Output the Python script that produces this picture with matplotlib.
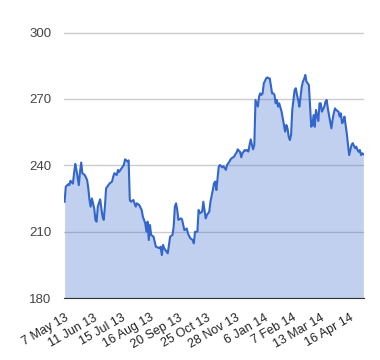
import matplotlib.pyplot as plt

plt.rcParams['font.family'] = ['Liberation Sans', 'DejaVu Sans']

# trading-day index (0 = 7 May 13) and closing price
day = [0, 1, 3, 4, 5, 7, 8, 9, 10, 12, 13, 14, 15, 17, 19, 20, 21, 22, 23, 24,
       25, 26, 27, 28, 30, 31, 32, 33, 34, 35, 37, 38, 40, 41, 42, 44, 45, 46, 49, 50,
       51, 53, 54, 55, 56, 58, 60, 61, 63, 65, 66, 68, 69, 70, 71, 72, 73, 75, 76, 77,
       80, 81, 82, 83, 84, 85, 87, 88, 89, 91, 92, 93, 94, 95, 96, 98, 99, 101, 103, 104,
       106, 108, 109, 110, 112, 113, 114, 116, 117, 118, 119, 120, 122, 123, 125, 126, 127, 128, 129, 130,
       131, 132, 133, 134, 136, 137, 138, 139, 140, 141, 143, 144, 145, 146, 148, 149, 150, 151, 152, 153,
       154, 155, 156, 157, 158, 159, 160, 161, 162, 163, 164, 165, 166, 167, 168, 170, 171, 172, 173, 175,
       176, 177, 178, 179, 180, 181, 183, 184, 185, 186, 187, 188, 189, 190, 191, 192, 194, 195, 196, 197,
       198, 199, 200, 201, 202, 203, 204, 206, 208, 209, 210, 211, 212, 213, 214, 215, 216, 217, 219, 220,
       221, 222, 223, 224, 225, 226, 227, 228, 229, 231, 232, 233, 234, 235, 236, 238, 239, 240, 241, 242,
       243, 245, 246, 247, 248, 249, 250, 251, 252]
price = [223.5, 230.3, 231.4, 231.0, 233.0, 231.7, 236.4, 240.6, 237.9, 231.0, 237.0, 241.2, 236.4, 235.6, 233.3, 229.6, 224.3, 221.3, 225.0, 222.8,
         220.5, 215.3, 214.5, 221.3, 224.6, 220.5, 216.8, 215.3, 221.3, 229.6, 231.1, 231.8, 232.6, 234.8, 236.4, 235.6, 237.9, 237.0, 239.4, 240.2,
         242.7, 241.7, 242.2, 224.3, 223.5, 224.3, 221.3, 222.8, 222.0, 219.8, 216.8, 213.8, 210.0, 214.5, 206.2, 213.0, 208.5, 207.7, 205.5, 203.2,
         202.5, 203.2, 199.4, 204.0, 202.5, 201.7, 200.2, 204.0, 207.7, 208.5, 212.3, 221.3, 222.8, 219.8, 215.3, 216.0, 215.6, 210.7, 211.4, 209.2,
         207.0, 206.2, 204.7, 209.9, 210.0, 219.8, 218.3, 219.0, 223.5, 219.8, 216.0, 217.5, 219.0, 223.5, 228.8, 231.8, 232.6, 228.8, 234.1, 239.4,
         240.1, 239.6, 239.0, 239.6, 237.9, 240.1, 240.9, 241.6, 242.7, 243.2, 243.9, 245.0, 245.7, 247.2, 246.0, 243.6, 245.5, 246.2, 246.9, 246.6,
         246.9, 246.2, 249.2, 251.7, 249.2, 247.2, 249.2, 269.5, 268.0, 266.5, 271.0, 272.5, 271.8, 272.5, 277.0, 279.3, 279.7, 279.3, 279.3, 272.5,
         272.5, 271.8, 268.0, 269.5, 266.5, 268.0, 264.2, 261.2, 258.2, 255.2, 258.2, 256.7, 252.9, 251.4, 253.7, 265.0, 274.0, 274.8, 271.8, 269.5,
         266.5, 271.0, 275.5, 277.8, 279.0, 280.8, 277.8, 276.3, 257.4, 258.2, 262.7, 257.4, 265.0, 262.5, 260.0, 268.0, 268.0, 264.2, 266.5, 268.7,
         269.5, 265.7, 262.7, 259.7, 256.7, 260.5, 263.5, 265.7, 265.0, 264.2, 262.0, 263.5, 259.0, 259.7, 262.0, 254.4, 249.2, 244.6, 246.9, 249.2,
         250.0, 247.7, 248.4, 246.9, 246.1, 246.9, 244.6, 245.4, 245.0]

n_days = 253
tick_labels = ['7 May 13', '11 Jun 13', '15 Jul 13', '16 Aug 13', '20 Sep 13', '25 Oct 13',
               '28 Nov 13', '6 Jan 14', '7 Feb 14', '13 Mar 14', '16 Apr 14']
tick_step = 24
y_ticks = [180, 210, 240, 270, 300]

fig = plt.figure(figsize=(3.8, 3.6), dpi=100)
ax = fig.add_axes([64 / 380, 1 - 298 / 360, 300 / 380, 265.5 / 360])

ax.fill_between(day, price, 180, color='#3366cc', alpha=0.3, linewidth=0, zorder=2)
ax.plot(day, price, color='#3366cc', linewidth=1.5, zorder=3)

ax.set_xlim(-0.5, n_days - 0.5)
ax.set_ylim(180, 300)
ax.set_yticks(y_ticks)
ax.set_xticks(range(0, tick_step * len(tick_labels), tick_step))
ax.set_xticklabels(tick_labels, rotation=30, ha='right', rotation_mode='anchor')

ax.grid(axis='y', color='#cccccc', linewidth=1, zorder=1)
ax.set_axisbelow(True)
for s in ['top', 'right', 'left']:
    ax.spines[s].set_visible(False)
ax.spines['bottom'].set_color('#333333')
ax.spines['bottom'].set_zorder(4)
ax.tick_params(axis='y', length=0, pad=9, labelsize=9.5, labelcolor='#444444')
ax.tick_params(axis='x', length=0, pad=10, labelsize=9, labelcolor='#222222')

plt.savefig('out.png', dpi=100)
